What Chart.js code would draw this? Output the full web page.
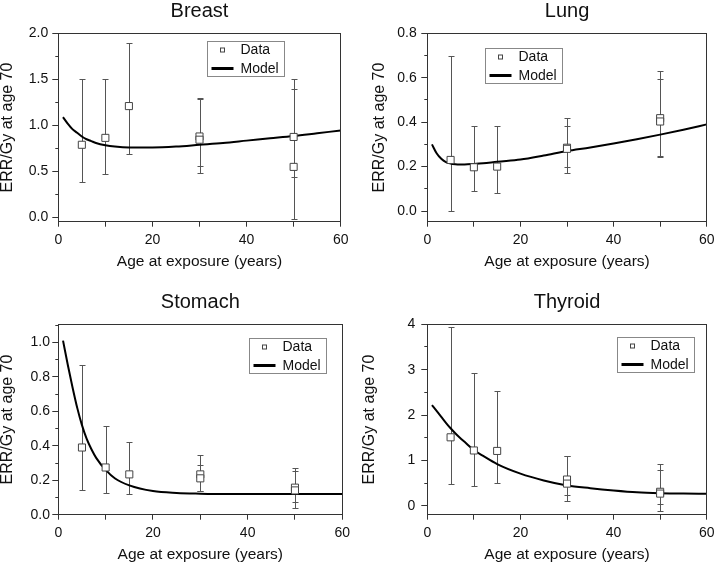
<!DOCTYPE html>
<html>
<head>
<meta charset="utf-8">
<script src="https://cdn.jsdelivr.net/npm/chart.js@4.4.1/dist/chart.umd.min.js"></script>
<style>
  body { margin: 0; background: #fff; }
  #wrap { position: relative; width: 720px; height: 563px; overflow: hidden; }
  .panel { position: absolute; }
</style>
</head>
<body>
<div id="wrap">
  <div class="panel" style="left:0;top:0;width:360px;height:269px"><canvas id="breastChart"></canvas></div>
  <div class="panel" style="left:360px;top:0;width:360px;height:269px"><canvas id="lungChart"></canvas></div>
  <div class="panel" style="left:0;top:291px;width:360px;height:271px"><canvas id="stomachChart"></canvas></div>
  <div class="panel" style="left:360px;top:291px;width:360px;height:271px"><canvas id="thyroidChart"></canvas></div>
</div>
<script>
// Age at exposure of the data points (two estimates at 30 and at 50)
const ages = [5, 10, 15, 30, 30, 50, 50];

const breastErr = [0.79, 0.865, 1.21, 0.88, 0.845, 0.875, 0.55];
const breastLow = [0.385, 0.475, 0.695, 0.48, 0.555, 0.445, -0.02];
const breastHigh = [1.50, 1.50, 1.90, 1.30, 1.29, 1.50, 1.40];

const lungErr = [0.23, 0.197, 0.20, 0.285, 0.28, 0.418, 0.403];
const lungLow = [0.0, 0.092, 0.081, 0.17, 0.197, 0.246, 0.243];
const lungHigh = [0.70, 0.385, 0.385, 0.418, 0.385, 0.63, 0.596];

const stomachErr = [0.39, 0.274, 0.234, 0.234, 0.211, 0.157, 0.141];
const stomachLow = [0.143, 0.126, 0.12, 0.137, 0.137, 0.075, 0.037];
const stomachHigh = [0.871, 0.514, 0.42, 0.348, 0.29, 0.272, 0.255];

const thyroidErr = [1.51, 1.22, 1.21, 0.58, 0.49, 0.31, 0.27];
const thyroidLow = [0.475, 0.44, 0.50, 0.245, 0.11, 0.045, -0.105];
const thyroidHigh = [3.93, 2.92, 2.52, 1.105, 1.09, 0.925, 0.78];

const modelAges = [1, 2, 3, 4, 5, 6, 7, 8, 10, 12, 15, 20, 25, 30, 35, 40, 45, 50, 55, 60];
const breastModel = [1.09, 1.02, 0.96, 0.92, 0.88, 0.85, 0.83, 0.81, 0.785, 0.77, 0.76, 0.76, 0.77, 0.79, 0.81, 0.835, 0.86, 0.885, 0.915, 0.945];
const lungModel = [0.30, 0.26, 0.235, 0.22, 0.214, 0.211, 0.21, 0.21, 0.212, 0.215, 0.222, 0.232, 0.25, 0.27, 0.286, 0.304, 0.323, 0.344, 0.366, 0.39];
const stomachModel = [1.01, 0.87, 0.74, 0.62, 0.52, 0.44, 0.38, 0.33, 0.26, 0.21, 0.17, 0.137, 0.126, 0.122, 0.12, 0.12, 0.12, 0.12, 0.12, 0.12];
const thyroidModel = [2.22, 2.09, 1.96, 1.83, 1.71, 1.6, 1.5, 1.41, 1.23, 1.1, 0.92, 0.71, 0.56, 0.45, 0.39, 0.34, 0.3, 0.28, 0.27, 0.265];

// x axis ticks every 10, labels every 20
const xTickLabels = ['0', '20', '40', '60'];

const font = "'Liberation Sans', Arial, Helvetica, sans-serif";
Chart.defaults.font.family = font;
Chart.defaults.color = '#111';

// error bars drawn from the y scale
const errorBars = {
  id: 'errorBars',
  beforeDatasetsDraw(chart) {
    const { ctx, scales: { x, y } } = chart;
    chart.data.datasets.forEach(ds => {
      if (!ds.errLow) return;
      ctx.save();
      ctx.strokeStyle = '#555';
      ctx.lineWidth = 1;
      ds.data.forEach((p, i) => {
        const px = Math.round(x.getPixelForValue(p.x)) + 0.5;
        const lo = Math.round(y.getPixelForValue(ds.errLow[i])) + 0.5;
        const hi = Math.round(y.getPixelForValue(ds.errHigh[i])) + 0.5;
        ctx.beginPath();
        ctx.moveTo(px, lo); ctx.lineTo(px, hi);
        ctx.moveTo(px - 3, lo); ctx.lineTo(px + 3, lo);
        ctx.moveTo(px - 3, hi); ctx.lineTo(px + 3, hi);
        ctx.stroke();
      });
      ctx.restore();
    });
  }
};

// frame round the plot and the boxed legend inside it
const frameLegend = {
  id: 'frameLegend',
  afterDatasetsDraw(chart, args, opts) {
    const { ctx, chartArea: a } = chart;
    ctx.save();
    ctx.strokeStyle = '#333';
    ctx.lineWidth = 1;
    ctx.strokeRect(Math.round(a.left) + 0.5, Math.round(a.top) + 0.5,
      Math.round(a.right - a.left), Math.round(a.bottom - a.top));

    const bx = Math.round(a.left + opts.dx) + 0.5;
    const by = Math.round(a.top + opts.dy) + 0.5;
    ctx.fillStyle = '#fff';
    ctx.fillRect(bx, by, 77, 35);
    ctx.strokeStyle = '#888';
    ctx.strokeRect(bx, by, 77, 35);
    ctx.strokeStyle = '#444';
    ctx.strokeRect(bx + 13, by + 6.5, 4, 4);
    ctx.strokeStyle = '#000';
    ctx.lineWidth = 3;
    ctx.beginPath();
    ctx.moveTo(bx + 4, by + 27);
    ctx.lineTo(bx + 26, by + 27);
    ctx.stroke();
    ctx.fillStyle = '#111';
    ctx.font = '14px ' + font;
    ctx.textBaseline = 'middle';
    ctx.fillText('Data', bx + 33, by + 9);
    ctx.fillText('Model', bx + 33, by + 27.5);
    ctx.restore();
  }
};

const panels = [
  { id: 'breastChart', title: 'Breast', err: breastErr, low: breastLow, high: breastHigh, model: breastModel,
    yMin: -0.045, yMax: 2.0, major: 0.5, minor: 0.25, dec: 1,
    yWidth: 58.3, padRight: 19.3, tickPad: 4, yTitlePad: -0.5, legend: [149, 7.4] },
  { id: 'lungChart', title: 'Lung', err: lungErr, low: lungLow, high: lungHigh, model: lungModel,
    yMin: -0.048, yMax: 0.8, major: 0.2, minor: 0.1, dec: 1,
    yWidth: 67.3, padRight: 11, tickPad: 4.6, yTitlePad: 12, legend: [57.7, 14.4] },
  { id: 'stomachChart', title: 'Stomach', err: stomachErr, low: stomachLow, high: stomachHigh, model: stomachModel,
    yMin: 0, yMax: 1.105, major: 0.2, minor: 0.1, dec: 1,
    yWidth: 58.3, padRight: 17.7, tickPad: 2.3, yTitlePad: 0, legend: [191, 13.7] },
  { id: 'thyroidChart', title: 'Thyroid', err: thyroidErr, low: thyroidLow, high: thyroidHigh, model: thyroidModel,
    yMin: -0.195, yMax: 4.0, major: 1, minor: 0.5, dec: 0,
    yWidth: 67.3, padRight: 9.3, tickPad: 6, yTitlePad: 1.5, legend: [190, 12.6] }
];

panels.forEach(p => {
  new Chart(document.getElementById(p.id), {
    type: 'scatter',
    data: {
      datasets: [
        {
          label: 'Data',
          data: ages.map((a, i) => ({ x: a, y: p.err[i] })),
          errLow: p.low,
          errHigh: p.high,
          pointStyle: 'rect',
          pointRadius: 5,
          pointBackgroundColor: '#fff',
          pointBorderColor: '#444',
          pointBorderWidth: 1
        },
        {
          label: 'Model',
          data: modelAges.map((a, i) => ({ x: a, y: p.model[i] })),
          showLine: true,
          borderColor: '#000',
          borderWidth: 2,
          pointRadius: 0,
          cubicInterpolationMode: 'monotone'
        }
      ]
    },
    options: {
      responsive: true,
      maintainAspectRatio: false,
      animation: false,
      layout: { padding: { left: 0, right: p.padRight, top: 0, bottom: 0 } },
      plugins: {
        legend: { display: false },
        tooltip: { enabled: false },
        title: {
          display: true,
          text: p.title,
          fullSize: false,
          color: '#111',
          font: { size: 20, weight: 'normal', lineHeight: 1 },
          padding: { top: 1, bottom: 12.3 }
        },
        frameLegend: { dx: p.legend[0], dy: p.legend[1] }
      },
      scales: {
        x: {
          type: 'linear',
          min: 0,
          max: 60,
          border: { display: false },
          grid: { drawOnChartArea: false, tickLength: 5, color: '#333' },
          ticks: {
            stepSize: 10,
            autoSkip: false,
            maxRotation: 0,
            includeBounds: false,
            padding: 5.5,
            font: { size: 14 },
            color: '#111',
            callback: v => xTickLabels.includes(String(v)) ? String(v) : ''
          },
          title: {
            display: true,
            text: 'Age at exposure (years)',
            font: { size: 15.5, lineHeight: 1 },
            padding: 0,
            color: '#111'
          },
          afterFit: s => { s.height = 47.3; }
        },
        y: {
          type: 'linear',
          position: 'left',
          weight: 0,
          min: p.yMin,
          max: p.yMax,
          border: { display: false },
          grid: { drawOnChartArea: false, tickLength: 6, color: '#333' },
          ticks: {
            stepSize: p.major,
            autoSkip: false,
            includeBounds: false,
            padding: p.tickPad,
            font: { size: 14 },
            color: '#111',
            callback: v => v.toFixed(p.dec)
          },
          title: {
            display: true,
            text: 'ERR/Gy at age 70',
            font: { size: 16, lineHeight: 1 },
            padding: { top: p.yTitlePad, bottom: 0 },
            color: '#111'
          },
          afterFit: s => { s.width = p.yWidth; }
        },
        yMinor: {
          type: 'linear',
          position: 'left',
          weight: -1,
          min: p.yMin,
          max: p.yMax,
          border: { display: false },
          grid: { drawOnChartArea: false, tickLength: 3, color: '#333' },
          ticks: { stepSize: p.minor, autoSkip: false, includeBounds: false, callback: () => '' },
          afterFit: s => { s.width = 0; }
        }
      }
    },
    plugins: [errorBars, frameLegend]
  });
});
</script>
</body>
</html>
